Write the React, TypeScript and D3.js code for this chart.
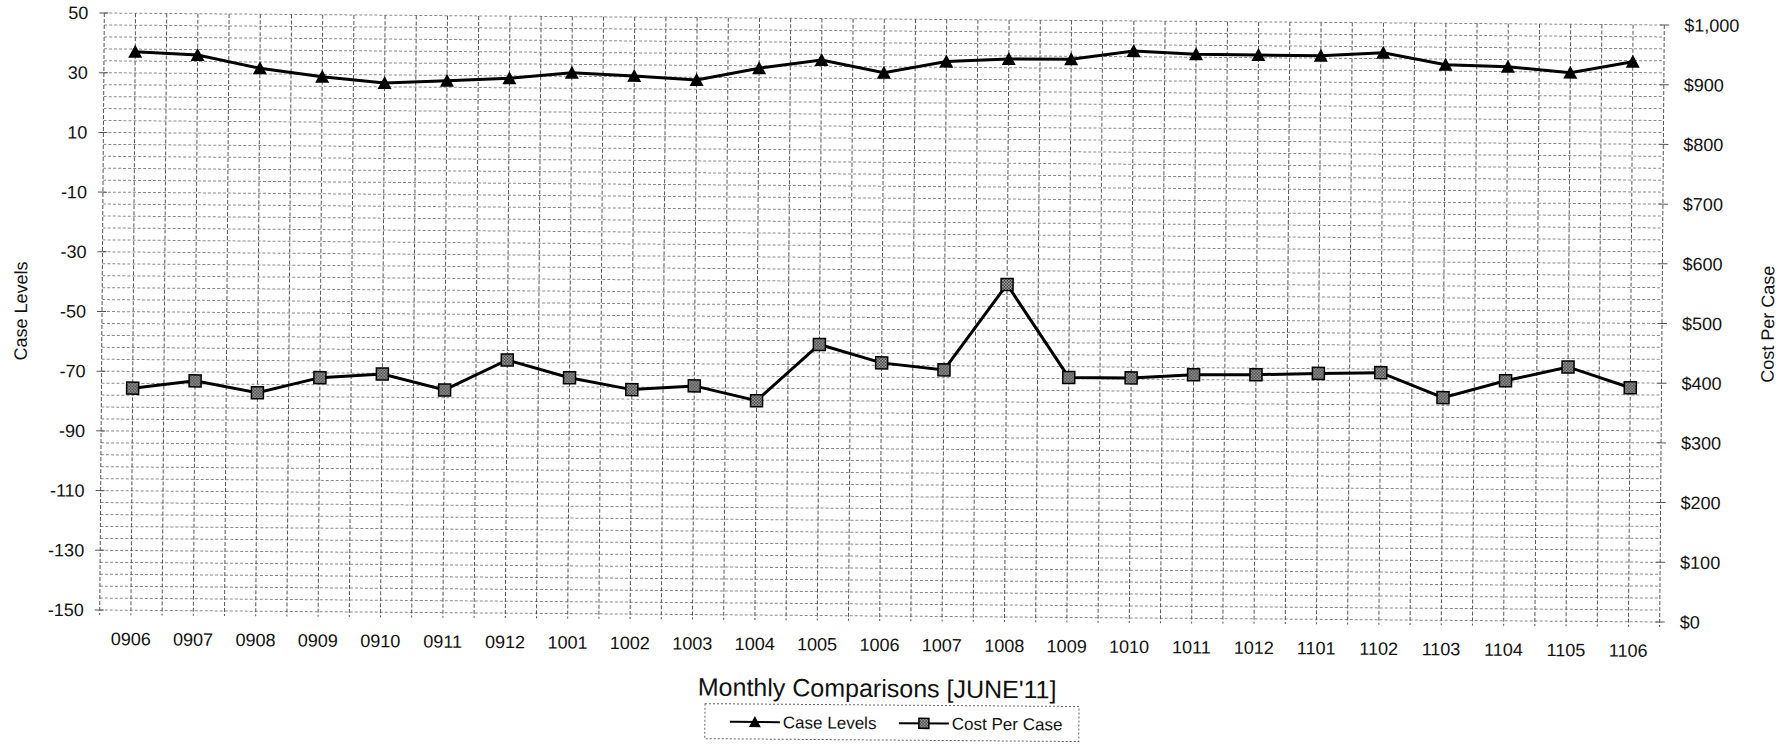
import * as d3 from 'd3';

const categories = ['0906', '0907', '0908', '0909', '0910', '0911', '0912', '1001', '1002', '1003', '1004', '1005', '1006',
    '1007', '1008', '1009', '1010', '1011', '1012', '1101', '1102', '1103', '1104', '1105', '1106'];

const caseLevels = [37.1, 36.2, 31.9, 29.2, 27.3, 28.2, 29.2, 31.2, 30.3, 29.1, 33.2, 36.1, 32.0,
    35.9, 36.9, 37.0, 39.9, 39.0, 38.9, 38.8, 40.0, 36.1, 35.6, 33.8, 37.6];

const costPerCase = [372, 385, 366, 392, 399, 373, 424, 395, 376, 383, 359, 454, 424,
    413, 557, 402, 402, 408, 409, 412, 414, 373, 402, 426, 392];

const leftTicks = [50, 30, 10, -10, -30, -50, -70, -90, -110, -130, -150];
const rightTicks = [0, 100, 200, 300, 400, 500, 600, 700, 800, 900, 1000];

const width = 1780;
const height = 746;
const FONT = '"Liberation Sans", Arial, sans-serif';

export default function App() {
    const left = 102, right = 1662, top = 19, bottom = 616;
    // scanned page is tilted a little
    const tilt = 0.44;
    const cx = (left + right) / 2, cy = (top + bottom) / 2;

    const x = d3.scalePoint<string>().domain(categories).range([left, right]).padding(0.5);
    const step = x.step();
    const yL = d3.scaleLinear().domain([-150, 50]).range([bottom, top]);
    const yR = d3.scaleLinear().domain([0, 1000]).range([bottom, top]);

    const caseLine = d3.line<number>().x((_, i) => x(categories[i])!).y(d => yL(d));
    const costLine = d3.line<number>().x((_, i) => x(categories[i])!).y(d => yR(d));

    const hGrid = d3.range(-150, 50.1, 4);
    const vGrid = d3.range(0, categories.length * 2 + 1).map(k => left + k * step / 2);

    const tri = 'M0,-7L7,6L-7,6Z';

    return (
        <svg width={width} height={height} style={{ position: 'absolute', left: 0, top: 0, background: '#fff' }}
            fontFamily={FONT}>
            <defs>
                <pattern id="chk" width="3" height="3" patternUnits="userSpaceOnUse">
                    <rect width="3" height="3" fill="#222" />
                    <rect width="1.5" height="1.5" fill="#ccc" />
                    <rect x="1.5" y="1.5" width="1.5" height="1.5" fill="#bbb" />
                </pattern>
            </defs>
            <g transform={`rotate(${tilt},${cx},${cy})`}>
                {/* grid */}
                {hGrid.map(v => (
                    <line key={'h' + v} x1={left} x2={right} y1={yL(v)} y2={yL(v)}
                        stroke="#8a8a8a" strokeWidth={1} strokeDasharray="3 2" />
                ))}
                {vGrid.map((gx, i) => (
                    <line key={'v' + i} x1={gx} x2={gx} y1={top} y2={bottom + 5}
                        stroke="#555" strokeWidth={1} strokeDasharray="4 2" />
                ))}
                {leftTicks.map(t => (
                    <line key={'lt' + t} x1={left - 5} x2={left + 4} y1={yL(t)} y2={yL(t)} stroke="#555" />
                ))}
                {rightTicks.map(t => (
                    <line key={'rt' + t} x1={right - 4} x2={right + 5} y1={yR(t)} y2={yR(t)} stroke="#555" />
                ))}

                {/* axis labels */}
                {leftTicks.map(t => (
                    <text key={'ll' + t} x={left - 16} y={yL(t)} dy="0.35em" textAnchor="end" fontSize={18} fill="#111">{t}</text>
                ))}
                {rightTicks.map(t => (
                    <text key={'rl' + t} x={right + 20} y={yR(t)} dy="0.35em" fontSize={18} fill="#111">
                        {d3.format('$,')(t)}
                    </text>
                ))}
                {categories.map(c => (
                    <text key={'xl' + c} x={x(c)} y={bottom + 35} textAnchor="middle" fontSize={18} fill="#111">{c}</text>
                ))}
                <text transform={`translate(27,${cy}) rotate(-90)`} textAnchor="middle" fontSize={18} fill="#111">Case Levels</text>
                <text transform={`translate(1774,${cy}) rotate(-90)`} textAnchor="middle" fontSize={18} fill="#111">Cost Per Case</text>
                <text x={880} y={697} textAnchor="middle" fontSize={25} fill="#111">Monthly Comparisons [JUNE'11]</text>

                {/* series */}
                <path d={caseLine(caseLevels)!} fill="none" stroke="#000" strokeWidth={3} />
                {caseLevels.map((v, i) => (
                    <path key={'cm' + i} d={tri} transform={`translate(${x(categories[i])},${yL(v)})`} fill="#000" />
                ))}
                <path d={costLine(costPerCase)!} fill="none" stroke="#000" strokeWidth={3} />
                {costPerCase.map((v, i) => (
                    <rect key={'pm' + i} x={x(categories[i])! - 6} y={yR(v) - 6} width={12} height={12}
                        fill="url(#chk)" stroke="#000" strokeWidth={1.5} />
                ))}

                {/* legend */}
                <rect x={708} y={705} width={374} height={35} fill="none" stroke="#666" strokeDasharray="2 2" />
                <line x1={733} x2={783} y1={723} y2={723} stroke="#000" strokeWidth={2} />
                <path d={tri} transform="translate(758,723) scale(0.85)" fill="#000" />
                <text x={786} y={729} fontSize={17} fill="#111">Case Levels</text>
                <line x1={902} x2={952} y1={723} y2={723} stroke="#000" strokeWidth={2} />
                <rect x={922} y={718} width={10} height={10} fill="url(#chk)" stroke="#000" strokeWidth={1.5} />
                <text x={955} y={729} fontSize={17} fill="#111">Cost Per Case</text>
            </g>
        </svg>
    );
}
